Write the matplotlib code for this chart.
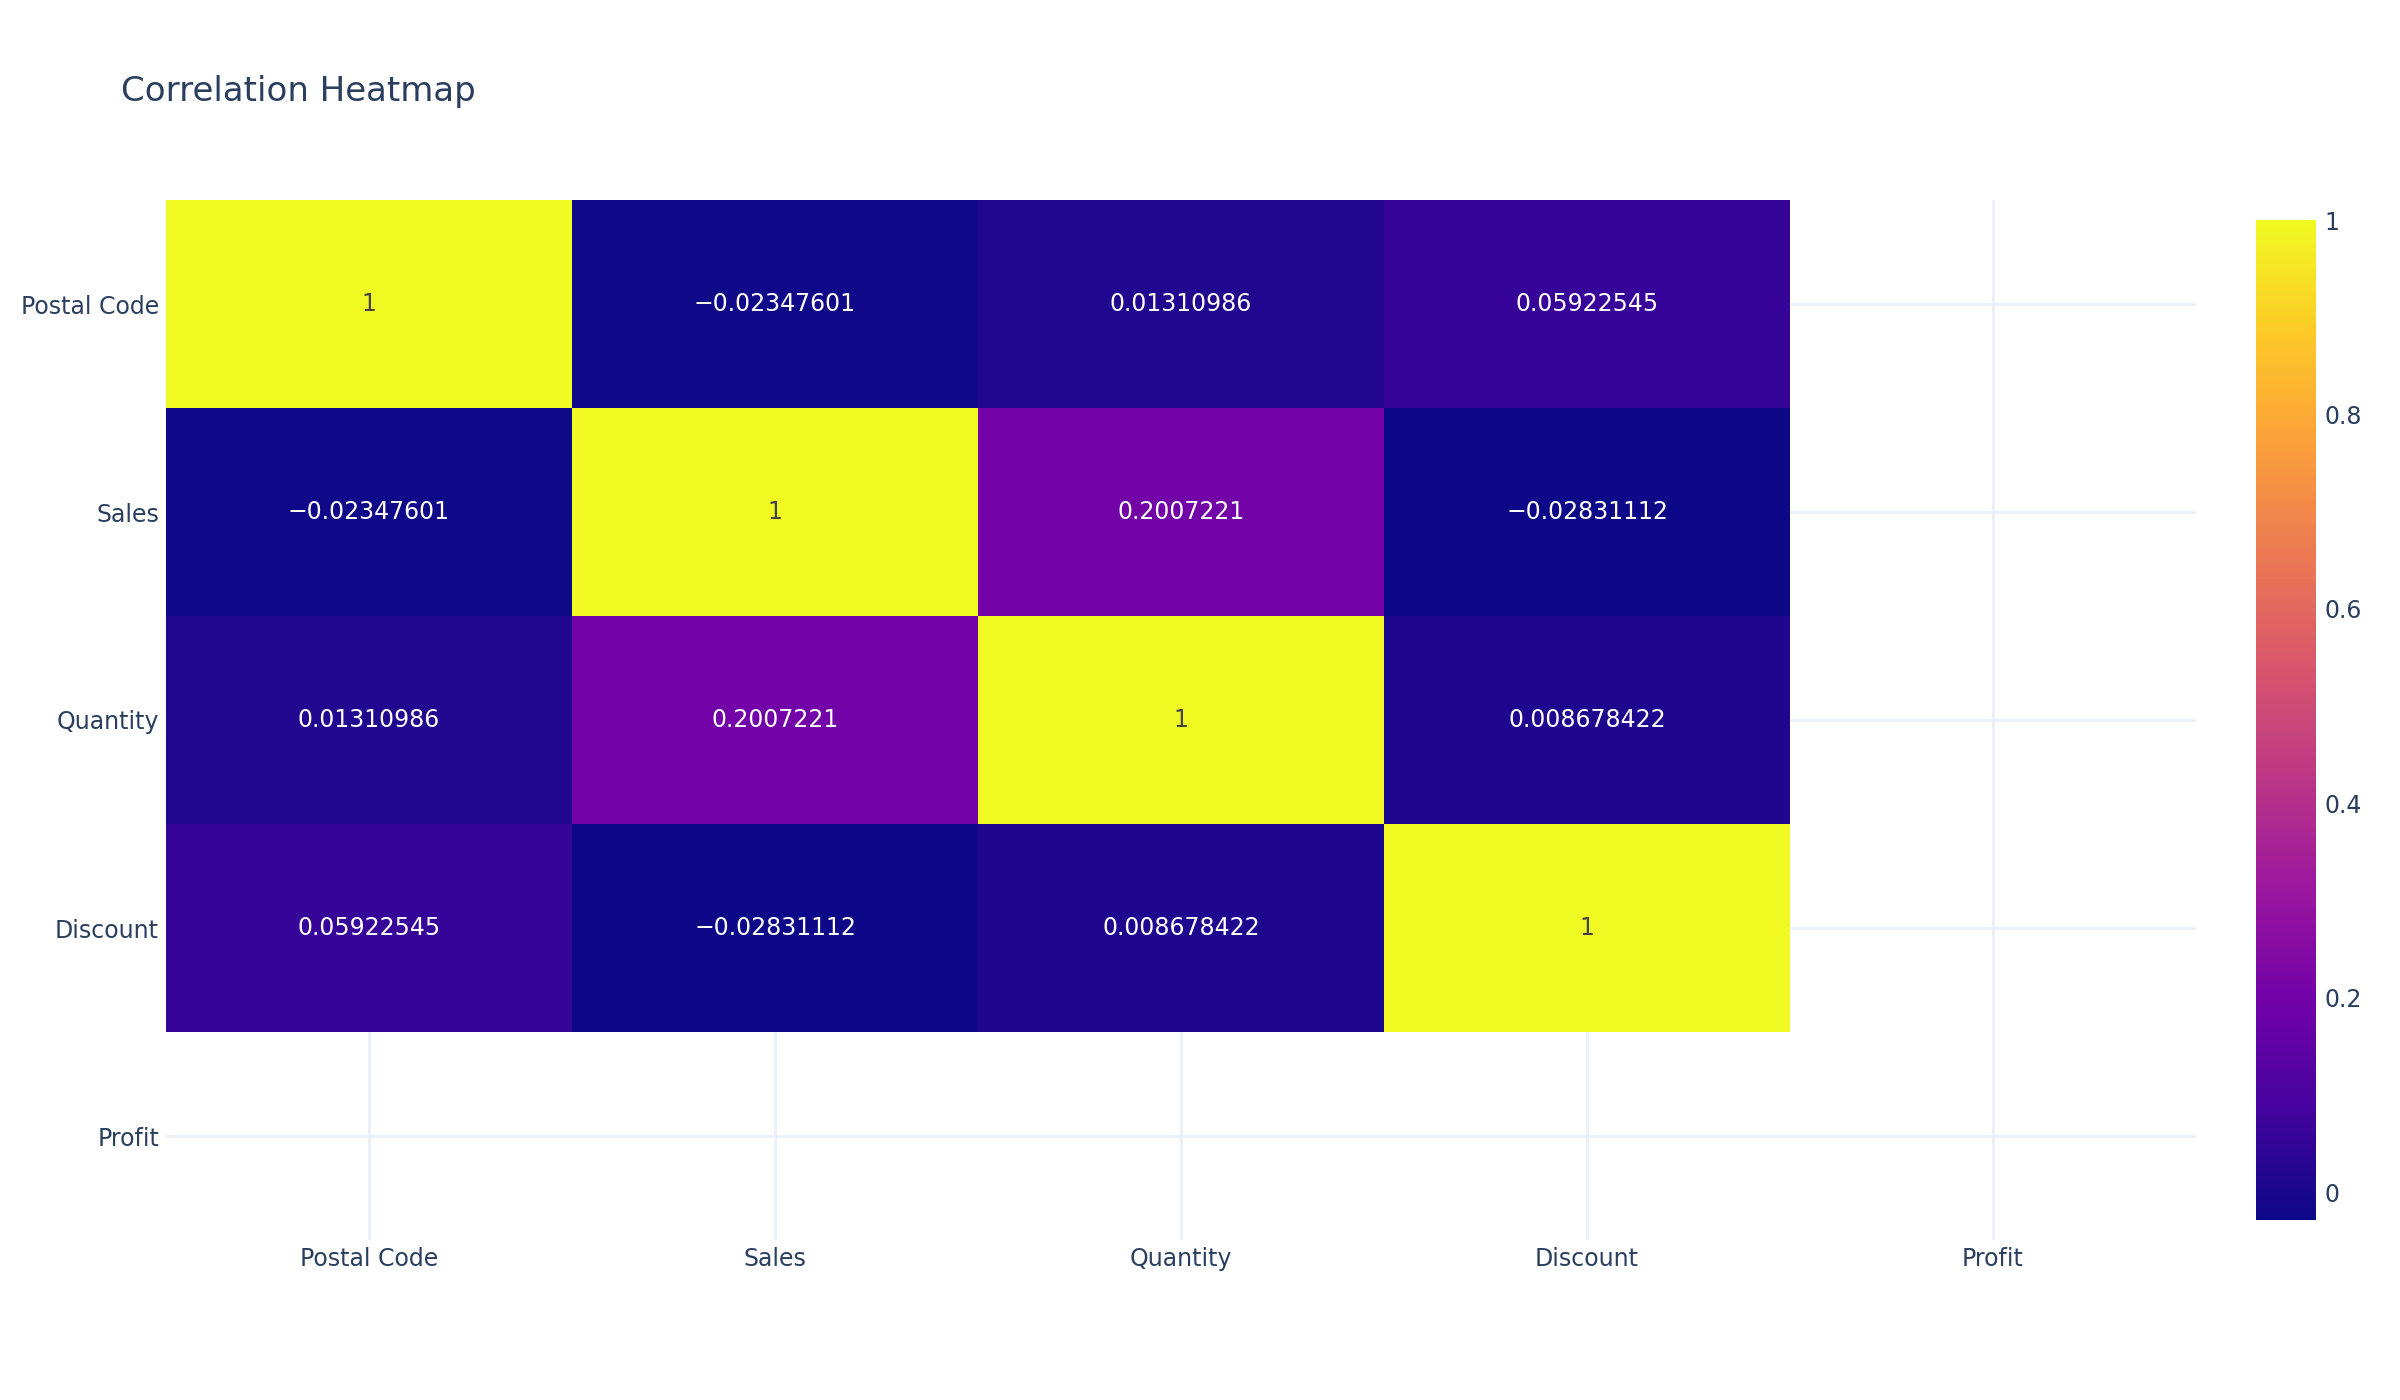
# correlation heatmap, plotly-like look
import numpy as np
import matplotlib.pyplot as plt
from matplotlib.colors import LinearSegmentedColormap

# data
labels = ['Postal Code', 'Sales', 'Quantity', 'Discount', 'Profit']
postal_code = [1, -0.02347601, 0.01310986, 0.05922545, np.nan]
sales = [-0.02347601, 1, 0.2007221, -0.02831112, np.nan]
quantity = [0.01310986, 0.2007221, 1, 0.008678422, np.nan]
discount = [0.05922545, -0.02831112, 0.008678422, 1, np.nan]
profit = [np.nan, np.nan, np.nan, np.nan, np.nan]
cbar_ticks = [0, 0.2, 0.4, 0.6, 0.8, 1]

corr = np.array([postal_code, sales, quantity, discount, profit])
masked = np.ma.masked_invalid(corr)
vmin, vmax = np.nanmin(corr), np.nanmax(corr)

# plotly's Plasma
plasma = LinearSegmentedColormap.from_list('plotly_plasma', [
    '#0d0887', '#46039f', '#7201a8', '#9c179e', '#bd3786',
    '#d8576b', '#ed7953', '#fb9f3a', '#fdca26', '#f0f921'])

font_color = '#2a3f5f'
grid_color = '#ebf0f8'

fig = plt.figure(figsize=(24, 14), dpi=100)
ax = fig.add_axes([166 / 2400, 160 / 1400, 2030 / 2400, 1040 / 1400])

n = len(labels)
x = np.arange(n + 1) - 0.5
mesh = ax.pcolormesh(x, x, masked, cmap=plasma, vmin=vmin, vmax=vmax, zorder=1)
ax.set_xlim(-0.5, n - 0.5)
ax.set_ylim(n - 0.5, -0.5)

# grid behind the cells
ax.set_axisbelow(True)
ax.set_xticks(range(n))
ax.set_yticks(range(n))
ax.set_xticklabels(labels, fontsize=17, color=font_color)
ax.set_yticklabels(labels, fontsize=17, color=font_color)
ax.tick_params(length=0, pad=5)
ax.grid(True, color=grid_color, linewidth=2)
for s in ax.spines.values():
    s.set_visible(False)

# cell text
def fmt(v):
    s = '%.7g' % v
    if 'e' in s:
        s = '%.9f' % v
    return s.replace('-', '\u2212')

for i in range(n):
    for j in range(n):
        v = corr[i, j]
        if np.isnan(v):
            continue
        c = '#444444' if v > 0.5 else 'white'
        ax.text(j, i, fmt(v), ha='center', va='center', fontsize=17, color=c)

# colorbar
cax = fig.add_axes([2256 / 2400, 180 / 1400, 60 / 2400, 1000 / 1400])
cb = fig.colorbar(mesh, cax=cax, ticks=cbar_ticks)
cb.outline.set_visible(False)
cb.ax.tick_params(length=0, pad=6, labelsize=17, labelcolor=font_color)
cb.ax.set_yticklabels([('%g' % t) for t in cbar_ticks])

fig.text(121 / 2400, 1 - 101 / 1400, 'Correlation Heatmap', fontsize=24.5,
         color=font_color, va='baseline', ha='left')

fig.savefig('out.png', dpi=100, facecolor='white')
